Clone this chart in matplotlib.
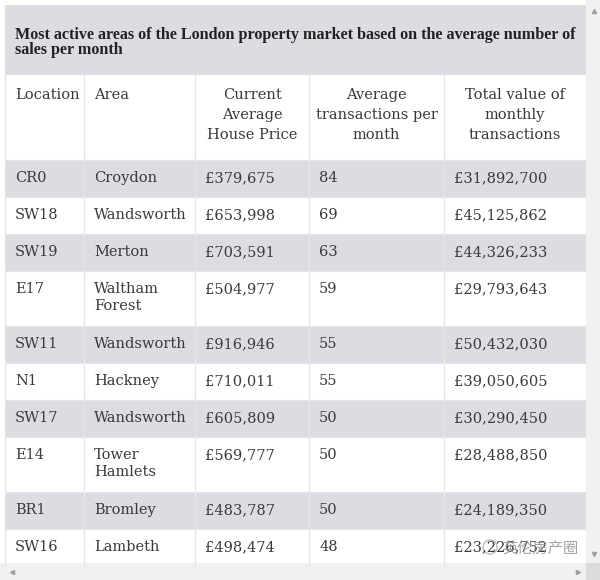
import matplotlib
matplotlib.use('Agg')
import matplotlib.pyplot as plt
from matplotlib.patches import Rectangle, Circle

# ── Table data ────────────────────────────────────────────────────────────────
title = ("Most active areas of the London property market based on the average number of\n"
         "sales per month")
headers = ["Location", "Area", "Current\nAverage\nHouse Price",
           "Average\ntransactions per\nmonth", "Total value of\nmonthly\ntransactions"]
locations = ["CR0", "SW18", "SW19", "E17", "SW11", "N1", "SW17", "E14", "BR1", "SW16"]
areas = ["Croydon", "Wandsworth", "Merton", "Waltham\nForest", "Wandsworth",
         "Hackney", "Wandsworth", "Tower\nHamlets", "Bromley", "Lambeth"]
prices = ["£379,675", "£653,998", "£703,591", "£504,977", "£916,946",
          "£710,011", "£605,809", "£569,777", "£483,787", "£498,474"]
transactions = ["84", "69", "63", "59", "55", "55", "50", "50", "50", "48"]
totals = ["£31,892,700", "£45,125,862", "£44,326,233", "£29,793,643", "£50,432,030",
          "£39,050,605", "£30,290,450", "£28,488,850", "£24,189,350", "£23,226,752"]

GREY = "#dcdde2"
LINE = "#e6e6e9"
TXT = "#3a3a3a"
BODY = "DejaVu Serif"

col_edges = [5, 84, 195, 309, 444, 586]
table_right = col_edges[-1]

fig = plt.figure(figsize=(6, 5.8), dpi=100)
ax = fig.add_axes([0, 0, 1, 1])
ax.set_xlim(0, 600)
ax.set_ylim(580, 0)
ax.axis('off')

# title band
ax.add_patch(Rectangle((5, 5), table_right - 5, 70, color=GREY, lw=0))
ax.text(15, 27, title, fontsize=11.6, fontweight='bold', family="Liberation Serif",
        color="#222", va='top', ha='left', linespacing=0.92)

# header row
hdr_top, hdr_bot = 75, 160
for i, h in enumerate(headers):
    if i < 2:
        ax.text(col_edges[i] + 10, hdr_top + 13, h, fontsize=10.5, family=BODY,
                color=TXT, va='top', ha='left', linespacing=1.55)
    else:
        xc = (col_edges[i] + col_edges[i + 1]) / 2
        ax.text(xc, hdr_top + 13, h, fontsize=10.5, family=BODY, color=TXT,
                va='top', ha='center', linespacing=1.55)

# body rows
y = hdr_bot
row_bounds = []
for r in range(len(locations)):
    n_lines = areas[r].count("\n") + 1
    h = 37 + 18 * (n_lines - 1)
    row_bounds.append((y, y + h))
    if r % 2 == 0:
        ax.add_patch(Rectangle((5, y), table_right - 5, h, color=GREY, lw=0))
    cells = [locations[r], areas[r], prices[r], transactions[r], totals[r]]
    for c, val in enumerate(cells):
        ax.text(col_edges[c] + 10, y + 11, val, fontsize=10.5, family=BODY,
                color=TXT, va='top', ha='left', linespacing=1.3)
    y += h

# grid lines
for x in col_edges[1:-1]:
    ax.plot([x, x], [hdr_top, y], color=LINE, lw=1)
for top, bot in row_bounds:
    ax.plot([5, table_right], [top, top], color=LINE, lw=0.8)
ax.plot([5, 5], [5, y], color=LINE, lw=1)

# watermark
ax.add_patch(Circle((490, 547), 7, fill=False, ec="#aaaaaa", lw=1, alpha=0.8))
ax.text(502, 548, "英伦房产圈", fontsize=11, family=["Noto Sans CJK SC", "DejaVu Sans"],
        color="#9a9a9a", va='center', ha='left', alpha=0.9)

# scrollbars
ax.add_patch(Rectangle((table_right, 0), 600 - table_right, 580, color="#f1f1f1", lw=0))
ax.add_patch(Rectangle((0, 563), table_right, 17, color="#f1f1f1", lw=0))
ax.add_patch(Rectangle((table_right, 563), 600 - table_right, 17, color="#dcdcdc", lw=0))
ax.plot(594, 11, marker='^', ms=3, color="#a0a0a0")
ax.plot(594, 554, marker='v', ms=3, color="#a0a0a0")
ax.plot(12, 572, marker='<', ms=3, color="#a0a0a0")
ax.plot(578, 572, marker='>', ms=3, color="#a0a0a0")

fig.savefig("out.png", dpi=100)
